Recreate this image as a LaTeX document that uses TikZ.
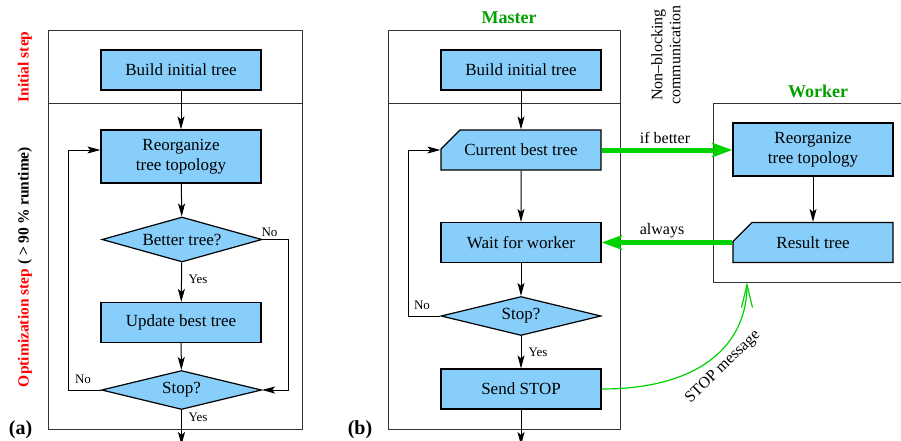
\documentclass[tikz,border=0pt]{standalone}
\usepackage{fontspec}
\setmainfont{Liberation Serif}
\usetikzlibrary{shapes.geometric,shapes.misc,arrows.meta}

\definecolor{boxblue}{RGB}{135,206,250}
\definecolor{msggreen}{RGB}{0,210,0}
\definecolor{titlegreen}{RGB}{0,160,0}

\tikzset{
    stepbox/.style={draw, fill=boxblue, line width=1.2pt, inner sep=0pt,
        minimum width=160pt, minimum height=40pt, align=center,
        font=\fontsize{17}{20}\selectfont},
    tallbox/.style={stepbox, minimum height=53pt},
    treebox/.style={stepbox, chamfered rectangle,
        chamfered rectangle corners=north west,
        chamfered rectangle xsep=20pt, chamfered rectangle ysep=13pt},
    decision/.style={draw, fill=boxblue, line width=1.2pt, diamond, aspect=3.5,
        inner sep=0pt, minimum width=160pt, minimum height=39pt,
        font=\fontsize{17}{20}\selectfont},
    flow/.style={line width=1pt, -{Stealth[length=13pt,width=7pt,inset=3pt]}},
    comm/.style={draw=msggreen, line width=5pt,
        -{Stealth[length=20pt,width=14pt,inset=3pt]}},
    stopmsg/.style={draw=msggreen, line width=1.2pt,
        -{Straight Barb[length=23pt,width=11pt]}},
    frame/.style={draw=black!80, line width=1pt},
    answer/.style={font=\fontsize{13}{15}\selectfont},
    commlabel/.style={font=\fontsize{16}{18}\selectfont},
    title/.style={text=titlegreen, font=\bfseries\fontsize{18}{20}\selectfont},
    phase/.style={rotate=90, font=\bfseries\fontsize{15.5}{18}\selectfont},
    panel/.style={font=\bfseries\fontsize{20}{22}\selectfont}
}

\begin{document}
\begin{tikzpicture}[x=1pt, y=-1pt]
    \clip (0,0) rectangle (901,440);

    % frames
    \draw[frame] (48,30) rectangle (302,429);
    \draw[frame] (48,103) -- (302,103);
    \draw[frame] (388,30) rectangle (620,429);
    \draw[frame] (388,103) -- (620,103);
    \draw[frame] (713,103) rectangle (930,282);

    % (a) sequential
    \node[stepbox] (build1) at (181,70) {Build initial tree};
    \node[tallbox] (reorg1) at (181,156.5) {Reorganize\\tree topology};
    \node[decision, minimum height=45pt] (better) at (182,239.5) {Better tree?};
    \node[stepbox] (update) at (181,322.5) {Update best tree};
    \node[decision] (stop1) at (181.5,390) {Stop?};
    \coordinate (end1) at (181.5,445);

    \draw[flow] (build1) -- (reorg1);
    \draw[flow] (reorg1) -- (better);
    \draw[flow] (better) -- (update);
    \draw[flow] (update) -- (stop1);
    \draw[flow] (better.east) -- (288,239.5) |- (stop1.east);
    \draw[flow] (stop1.west) -- (68,390) |- ([yshift=6.5pt]reorg1.west);
    \draw[flow] (stop1) -- (end1);

    \node[answer] (no1) at (269.5,232) {No};
    \node[answer] (yes1) at (198,279) {Yes};
    \node[answer] (no2) at (83,379) {No};
    \node[answer] (yes2) at (198,417) {Yes};

    \node[phase, text=red] (initlbl) at (25,67) {Initial step};
    \node[phase] (optlbl) at (25,267) {\textcolor{red}{Optimization step} ( > 90\,\% runtime)};
    \node[panel] (pa) at (20.5,430) {(a)};

    % (b) master / worker
    \node[title] (master) at (509,18) {Master};
    \node[stepbox] (build2) at (521,70) {Build initial tree};
    \node[treebox] (best) at (521,150) {Current best tree};
    \node[stepbox] (wait) at (521,242.5) {Wait for worker};
    \node[decision] (stop2) at (521,316) {Stop?};
    \node[stepbox] (send) at (521,389) {Send STOP};
    \coordinate (end2) at (521,445);

    \draw[flow] (build2) -- (best);
    \draw[flow] (best) -- (wait);
    \draw[flow] (wait) -- (stop2);
    \draw[flow] (stop2) -- (send);
    \draw[flow] (stop2.west) -- (408,316) |- (best.west);
    \draw[flow] (send) -- (end2);

    \node[answer] (no3) at (422,305) {No};
    \node[answer] (yes3) at (538,352) {Yes};

    \node[title] (worker) at (818,91) {Worker};
    \node[tallbox] (reorg2) at (813,149.5) {Reorganize\\tree topology};
    \node[treebox] (result) at (813,242.5) {Result tree};
    \coordinate (workerbot) at (747,282);

    \draw[flow] (reorg2) -- (result);
    \draw[comm] (best.east) -- (reorg2.west |- best.east);
    \draw[comm] (result.west) -- (wait.east |- result.west);
    \draw[stopmsg] (send.east) .. controls (700,389) and (747,345) .. (workerbot);

    \node[commlabel] (ifbetter) at (665,138) {if better};
    \node[commlabel] (always) at (662,231) {always};
    \node[commlabel, rotate=90, align=center] (nonblock) at (666,55)
        {Non--blocking\\communication};
    \node[commlabel, rotate=44] (stoplbl) at (723,367) {STOP message};
    \node[panel] (pb) at (360,430) {(b)};
\end{tikzpicture}
\end{document}
